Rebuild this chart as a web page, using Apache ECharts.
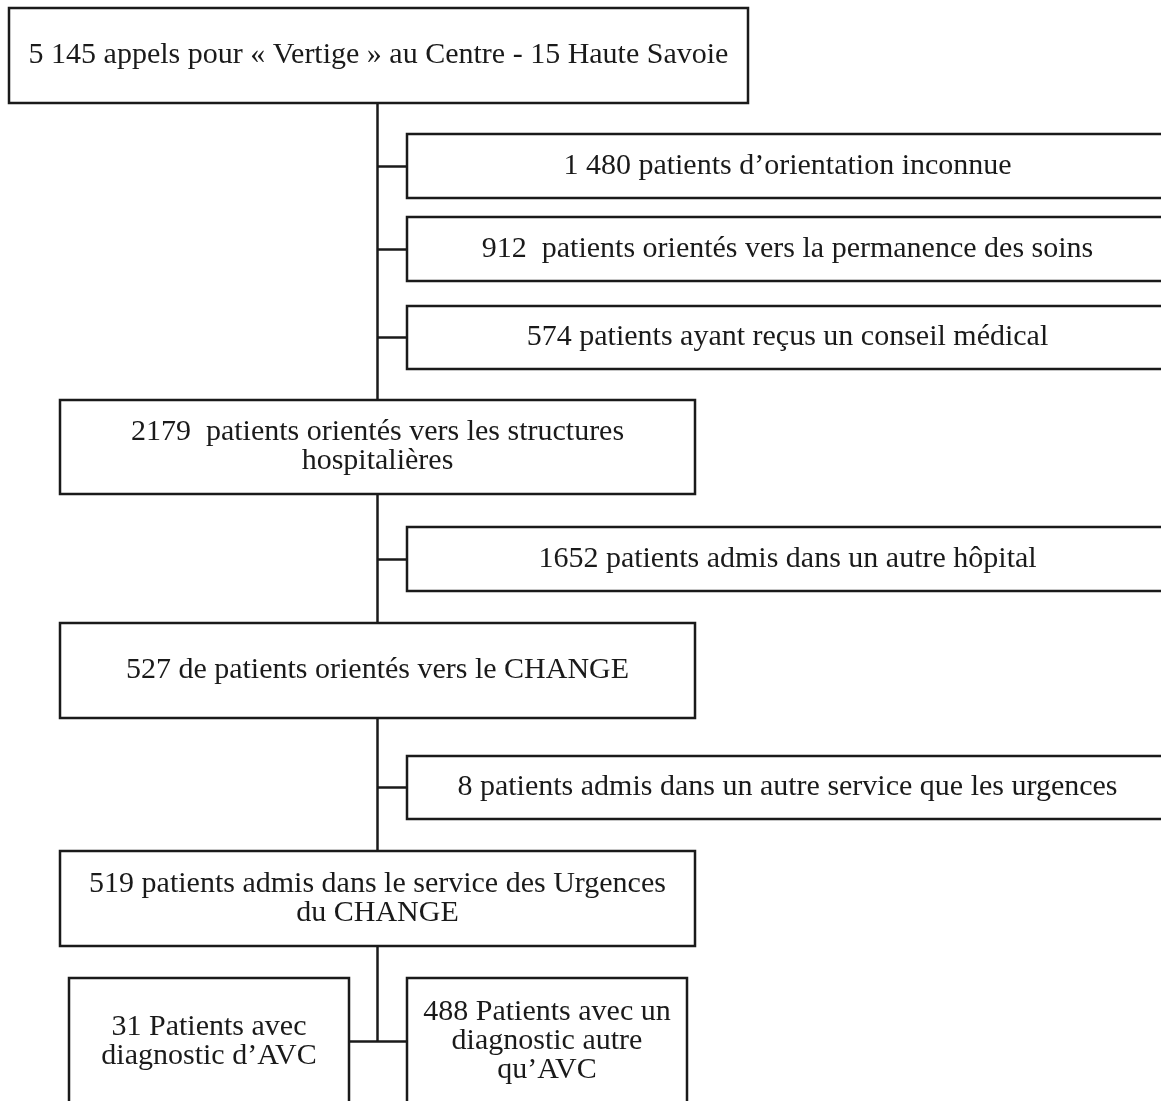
<!DOCTYPE html>
<html>
<head>
<meta charset="utf-8">
<script src="https://cdn.jsdelivr.net/npm/echarts@6/dist/echarts.min.js"></script>
<style>
  html, body { margin: 0; padding: 0; background: #fff; }
  #chart { width: 1161px; height: 1101px; }
</style>
</head>
<body>
<div id="chart"></div>
<script>
// textes des boites
var mainLabels = [
    '5 145 appels pour « Vertige » au Centre - 15 Haute Savoie',
    '2179  patients orientés vers les structures\nhospitalières',
    '527 de patients orientés vers le CHANGE',
    '519 patients admis dans le service des Urgences\ndu CHANGE'
];
var sideLabels = [
    '1 480 patients d’orientation inconnue',
    '912  patients orientés vers la permanence des soins',
    '574 patients ayant reçus un conseil médical',
    '1652 patients admis dans un autre hôpital',
    '8 patients admis dans un autre service que les urgences'
];
var leafLabels = [
    '31 Patients avec\ndiagnostic d’AVC',
    '488 Patients avec un\ndiagnostic autre\nqu’AVC'
];

// mise en page (pixels du schéma)
var spineX = 377;
var mainBoxes = [[9, 8, 748, 103], [60, 400, 695, 494], [60, 623, 695, 718], [60, 851, 695, 946]];
var sideBoxes = [[407, 134, 1168, 198], [407, 217, 1168, 281], [407, 306, 1168, 369], [407, 527, 1168, 591], [407, 756, 1168, 819]];
var leafBoxes = [[69, 978, 349, 1105], [407, 978, 687, 1105]];

var FONT = 'Liberation Serif';
var INK = '#1a1a1a';

function boxData(boxes, labels) {
    return boxes.map(function (b, i) {
        return {value: b, label: labels[i]};
    });
}
var allBoxes = boxData(mainBoxes, mainLabels)
    .concat(boxData(sideBoxes, sideLabels))
    .concat(boxData(leafBoxes, leafLabels));

// traits de liaison
var links = [];
for (var i = 0; i < mainBoxes.length - 1; i++) {
    links.push([[spineX, mainBoxes[i][3]], [spineX, mainBoxes[i + 1][1]]]);
}
var leafMid = (leafBoxes[0][1] + leafBoxes[0][3]) / 2;
links.push([[spineX, mainBoxes[3][3]], [spineX, leafMid]]);
links.push([[leafBoxes[0][2], leafMid], [leafBoxes[1][0], leafMid]]);
sideBoxes.forEach(function (b) {
    var m = (b[1] + b[3]) / 2;
    links.push([[spineX, m], [b[0], m]]);
});

function renderBox(params, api) {
    var p0 = api.coord([api.value(0), api.value(1)]);
    var p1 = api.coord([api.value(2), api.value(3)]);
    var label = allBoxes[params.dataIndex].label;
    return {
        type: 'group',
        children: [{
            type: 'rect',
            shape: {x: p0[0], y: p0[1], width: p1[0] - p0[0], height: p1[1] - p0[1]},
            style: {fill: '#fff', stroke: INK, lineWidth: 2.5}
        }, {
            type: 'text',
            style: {
                text: label,
                x: (p0[0] + p1[0]) / 2,
                y: (p0[1] + p1[1]) / 2,
                align: 'center',
                verticalAlign: 'middle',
                fontFamily: FONT,
                fontSize: 30,
                lineHeight: 29,
                fill: INK
            }
        }]
    };
}

var chart = echarts.init(document.getElementById('chart'));
chart.setOption({
    animation: false,
    grid: {left: 0, right: 0, top: 0, bottom: 0},
    xAxis: {type: 'value', min: 0, max: 1161, show: false},
    yAxis: {type: 'value', min: 0, max: 1101, inverse: true, show: false},
    series: [{
        type: 'lines',
        coordinateSystem: 'cartesian2d',
        polyline: false,
        silent: true,
        lineStyle: {color: INK, width: 2.5, opacity: 1},
        data: links.map(function (l) { return {coords: l}; }),
        z: 1
    }, {
        type: 'custom',
        renderItem: renderBox,
        clip: false,
        silent: true,
        data: allBoxes.map(function (b) { return b.value; }),
        z: 2
    }]
});
</script>
</body>
</html>
